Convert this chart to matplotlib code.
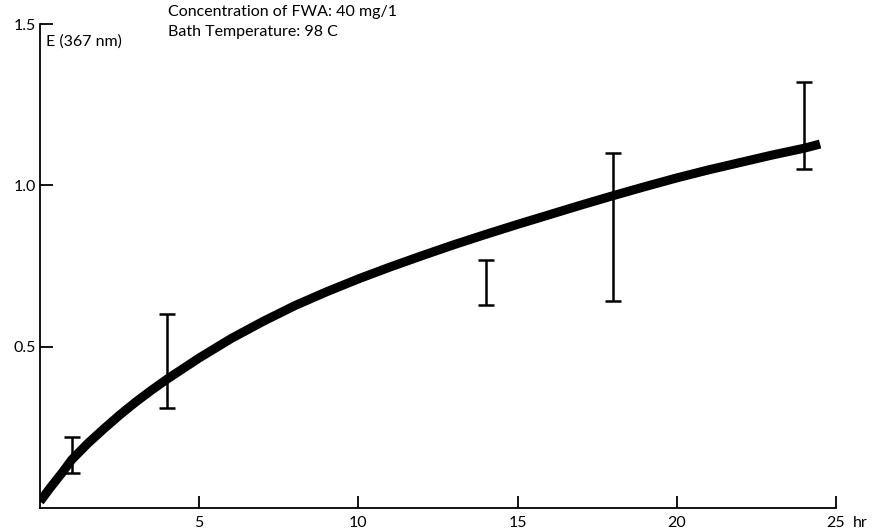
import matplotlib
matplotlib.use("Agg")
import matplotlib.pyplot as plt

plt.rcParams['font.family'] = ['Lato', 'DejaVu Sans']
plt.rcParams['path.simplify'] = False

# Fitted curve
curve_x = [0.0, 0.3, 0.7, 1, 1.5, 2, 2.5, 3, 3.5, 4, 5, 6, 7, 8, 9, 10, 11, 12, 13, 14,
           15, 16, 17, 18, 19, 20, 21, 22, 23, 24, 24.5]
curve_y = [0.02, 0.06, 0.11, 0.15, 0.20, 0.245, 0.288, 0.328, 0.365, 0.40, 0.465, 0.525,
           0.578, 0.627, 0.67, 0.71, 0.747, 0.782, 0.816, 0.848, 0.879, 0.909, 0.939, 0.968,
           0.996, 1.023, 1.048, 1.071, 1.094, 1.115, 1.128]

# Error bars (range of measured values)
err_x = [1, 4, 14, 18, 24]
err_low = [0.11, 0.31, 0.63, 0.64, 1.05]
err_high = [0.22, 0.60, 0.77, 1.10, 1.32]

x_ticks = [5, 10, 15, 20, 25]
x_ticklabels = ["5", "10", "15", "20", "25"]
y_ticks = [0.5, 1.0, 1.5]
y_ticklabels = ["0.5", "1.0", "1.5"]

fig = plt.figure(figsize=(8.72, 5.30), dpi=100)
ax = fig.add_axes([40/872, 22/530, 796/872, 484/530])

ax.plot(curve_x, curve_y, color='black', lw=6.5, solid_capstyle='butt',
        solid_joinstyle='round', zorder=3)

mid = [(l + h) / 2 for l, h in zip(err_low, err_high)]
yerr = [[m - l for m, l in zip(mid, err_low)], [h - m for h, m in zip(err_high, mid)]]
ax.errorbar(err_x, mid, yerr=yerr, fmt='none', ecolor='black', elinewidth=1.8,
            capsize=6, capthick=1.8, zorder=4)

ax.set_xlim(0, 25)
ax.set_ylim(0, 1.5)
ax.spines['top'].set_visible(False)
ax.spines['right'].set_visible(False)
for s in ('left', 'bottom'):
    ax.spines[s].set_linewidth(1.3)

ax.set_xticks(x_ticks)
ax.set_xticklabels(x_ticklabels)
ax.set_yticks(y_ticks)
ax.set_yticklabels(y_ticklabels)
ax.tick_params(axis='both', direction='in', length=9, width=1.3, labelsize=11.5)
ax.tick_params(axis='x', pad=6)
ax.tick_params(axis='y', pad=3)

ax.annotate("hr", xy=(25, 0), xycoords='data', xytext=(12, -6), textcoords='offset points',
            fontsize=11.5, ha='left', va='top')

ax.text(6/796, 1 - 18/484, "E (367 nm)", transform=ax.transAxes, fontsize=11.5,
        ha='left', va='center')
fig.text(168/872, 1 - 12/530, "Concentration of FWA: 40 mg/1", fontsize=11.5,
         ha='left', va='center')
fig.text(168/872, 1 - 32/530, "Bath Temperature: 98 C", fontsize=11.5,
         ha='left', va='center')

fig.savefig("out.png", dpi=100)
